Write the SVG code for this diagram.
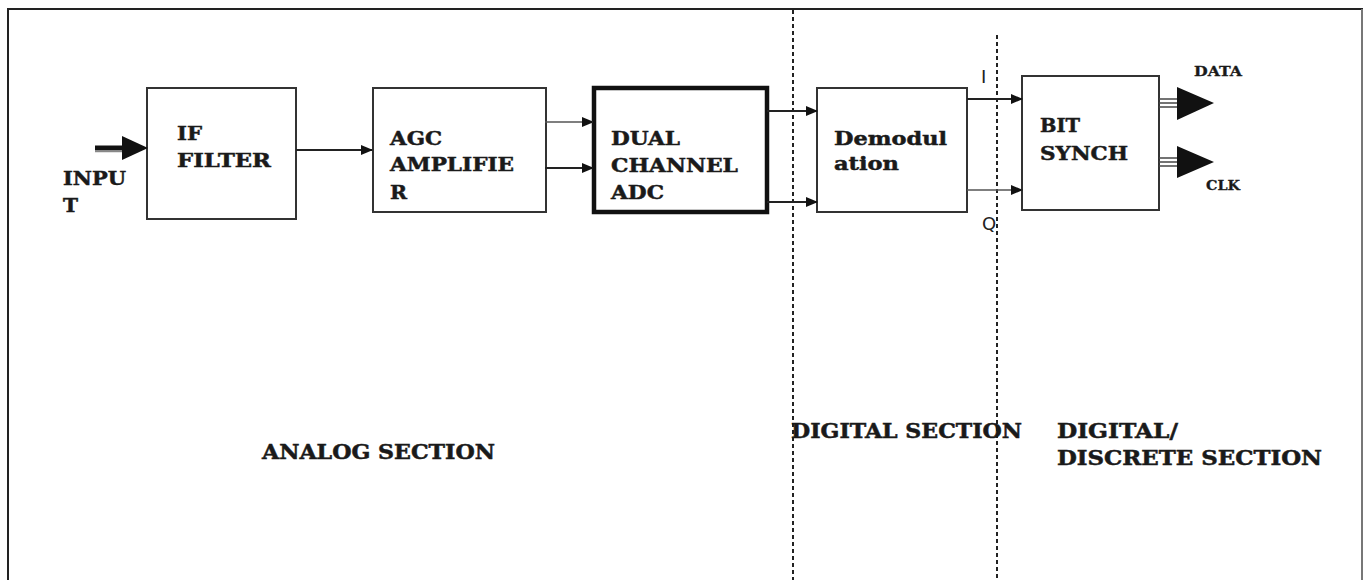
<svg xmlns="http://www.w3.org/2000/svg" width="1364" height="580" viewBox="0 0 1364 580">
<style>
.box{fill:#fff;stroke:#333;stroke-width:2}
.thick{fill:#fff;stroke:#111;stroke-width:4.5}
.t{font-family:"DejaVu Serif",serif;font-weight:bold;font-size:19px;fill:#1a1a1a;stroke:#1a1a1a;stroke-width:0.5}
.sec{font-family:"DejaVu Serif",serif;font-weight:bold;font-size:20px;fill:#1a1a1a;stroke:#1a1a1a;stroke-width:0.5}
.sm{font-family:"DejaVu Serif",serif;font-weight:bold;font-size:12px;fill:#1a1a1a;stroke:#1a1a1a;stroke-width:0.3}
.iq{font-family:"DejaVu Sans",sans-serif;font-size:18px;fill:#222}
.c{stroke:#222;stroke-width:2;fill:none}
.cl{stroke:#555;stroke-width:1.6;fill:none}
.dash{stroke:#222;stroke-width:2;stroke-dasharray:4,3;fill:none}
</style>
<defs>
<marker id="ah" markerUnits="userSpaceOnUse" markerWidth="12" markerHeight="10" refX="11" refY="5" orient="auto">
<path d="M0,0 L12,5 L0,10 Z" fill="#111"/>
</marker>
</defs>
<rect width="1364" height="580" fill="#fff"/>
<g id="frame">
<line x1="7" y1="9" x2="1363" y2="9" stroke="#222" stroke-width="2"/>
<line x1="8" y1="9" x2="8" y2="580" stroke="#222" stroke-width="2"/>
<line x1="1362" y1="9" x2="1362" y2="580" stroke="#777" stroke-width="2"/>
</g>
<g id="dividers">
<line class="dash" x1="793" y1="10" x2="793" y2="580"/>
<line class="dash" x1="997" y1="35" x2="997" y2="580"/>
</g>
<g id="if-filter">
<rect class="box" x="147" y="88" width="149" height="131"/>
<text class="t" x="177" y="140" textLength="25" lengthAdjust="spacingAndGlyphs">IF</text>
<text class="t" x="177" y="167" textLength="94" lengthAdjust="spacingAndGlyphs">FILTER</text>
</g>
<g id="agc-amplifier">
<rect class="box" x="373" y="88" width="173" height="124"/>
<text class="t" x="390" y="145" textLength="52" lengthAdjust="spacingAndGlyphs">AGC</text>
<text class="t" x="390" y="171" textLength="124" lengthAdjust="spacingAndGlyphs">AMPLIFIE</text>
<text class="t" x="390" y="199" textLength="17" lengthAdjust="spacingAndGlyphs">R</text>
</g>
<g id="adc">
<rect class="thick" x="594" y="88" width="173" height="124"/>
<text class="t" x="611" y="145" textLength="69" lengthAdjust="spacingAndGlyphs">DUAL</text>
<text class="t" x="611" y="172" textLength="127" lengthAdjust="spacingAndGlyphs">CHANNEL</text>
<text class="t" x="611" y="199" textLength="53" lengthAdjust="spacingAndGlyphs">ADC</text>
</g>
<g id="demodulation">
<rect class="box" x="817" y="88" width="150" height="124"/>
<text class="t" x="834" y="145" textLength="113" lengthAdjust="spacingAndGlyphs">Demodul</text>
<text class="t" x="834" y="170" textLength="65" lengthAdjust="spacingAndGlyphs">ation</text>
</g>
<g id="bit-synch">
<rect class="box" x="1022" y="76" width="137" height="134"/>
<text class="t" x="1040" y="132" textLength="40" lengthAdjust="spacingAndGlyphs">BIT</text>
<text class="t" x="1040" y="160" textLength="88" lengthAdjust="spacingAndGlyphs">SYNCH</text>
</g>
<g id="connectors">
<line x1="95" y1="148" x2="124" y2="148" stroke="#111" stroke-width="5"/>
<line x1="95" y1="151.5" x2="124" y2="151.5" stroke="#888" stroke-width="1.5"/>
<polygon points="122,136 148,148 122,160" fill="#111"/>
<line class="c" x1="296" y1="150" x2="372" y2="150" marker-end="url(#ah)"/>
<line class="cl" x1="545" y1="122" x2="593" y2="122" marker-end="url(#ah)"/>
<line class="c" x1="545" y1="168" x2="593" y2="168" marker-end="url(#ah)"/>
<line class="c" x1="767" y1="111" x2="817" y2="111" marker-end="url(#ah)"/>
<line class="c" x1="767" y1="202" x2="817" y2="202" marker-end="url(#ah)"/>
<line class="c" x1="967" y1="99" x2="1022" y2="99" marker-end="url(#ah)"/>
<line class="cl" x1="967" y1="190" x2="1022" y2="190" marker-end="url(#ah)"/>
<g stroke="#444" stroke-width="1.5">
<line x1="1159" y1="99" x2="1179" y2="99"/>
<line x1="1159" y1="103" x2="1179" y2="103"/>
<line x1="1159" y1="107" x2="1179" y2="107"/>
<line x1="1159" y1="158" x2="1179" y2="158"/>
<line x1="1159" y1="162" x2="1179" y2="162"/>
<line x1="1159" y1="166" x2="1179" y2="166"/>
</g>
<polygon points="1177,87 1214,103 1177,120" fill="#111"/>
<polygon points="1177,146 1214,162 1177,178" fill="#111"/>
</g>
<g id="labels">
<text class="t" x="63" y="185" textLength="63" lengthAdjust="spacingAndGlyphs">INPU</text>
<text class="t" x="63" y="212" textLength="15" lengthAdjust="spacingAndGlyphs">T</text>
<text class="iq" x="981" y="83">I</text>
<text class="iq" x="982" y="230">Q</text>
<text class="sm" x="1194" y="76" textLength="48" lengthAdjust="spacingAndGlyphs">DATA</text>
<text class="sm" x="1206" y="190" textLength="34" lengthAdjust="spacingAndGlyphs">CLK</text>
<text class="sec" x="262" y="459" textLength="233" lengthAdjust="spacingAndGlyphs">ANALOG SECTION</text>
<text class="sec" x="791" y="438" textLength="231" lengthAdjust="spacingAndGlyphs">DIGITAL SECTION</text>
<text class="sec" x="1057" y="438" textLength="121" lengthAdjust="spacingAndGlyphs">DIGITAL/</text>
<text class="sec" x="1057" y="465" textLength="265" lengthAdjust="spacingAndGlyphs">DISCRETE SECTION</text>
</g>
</svg>
